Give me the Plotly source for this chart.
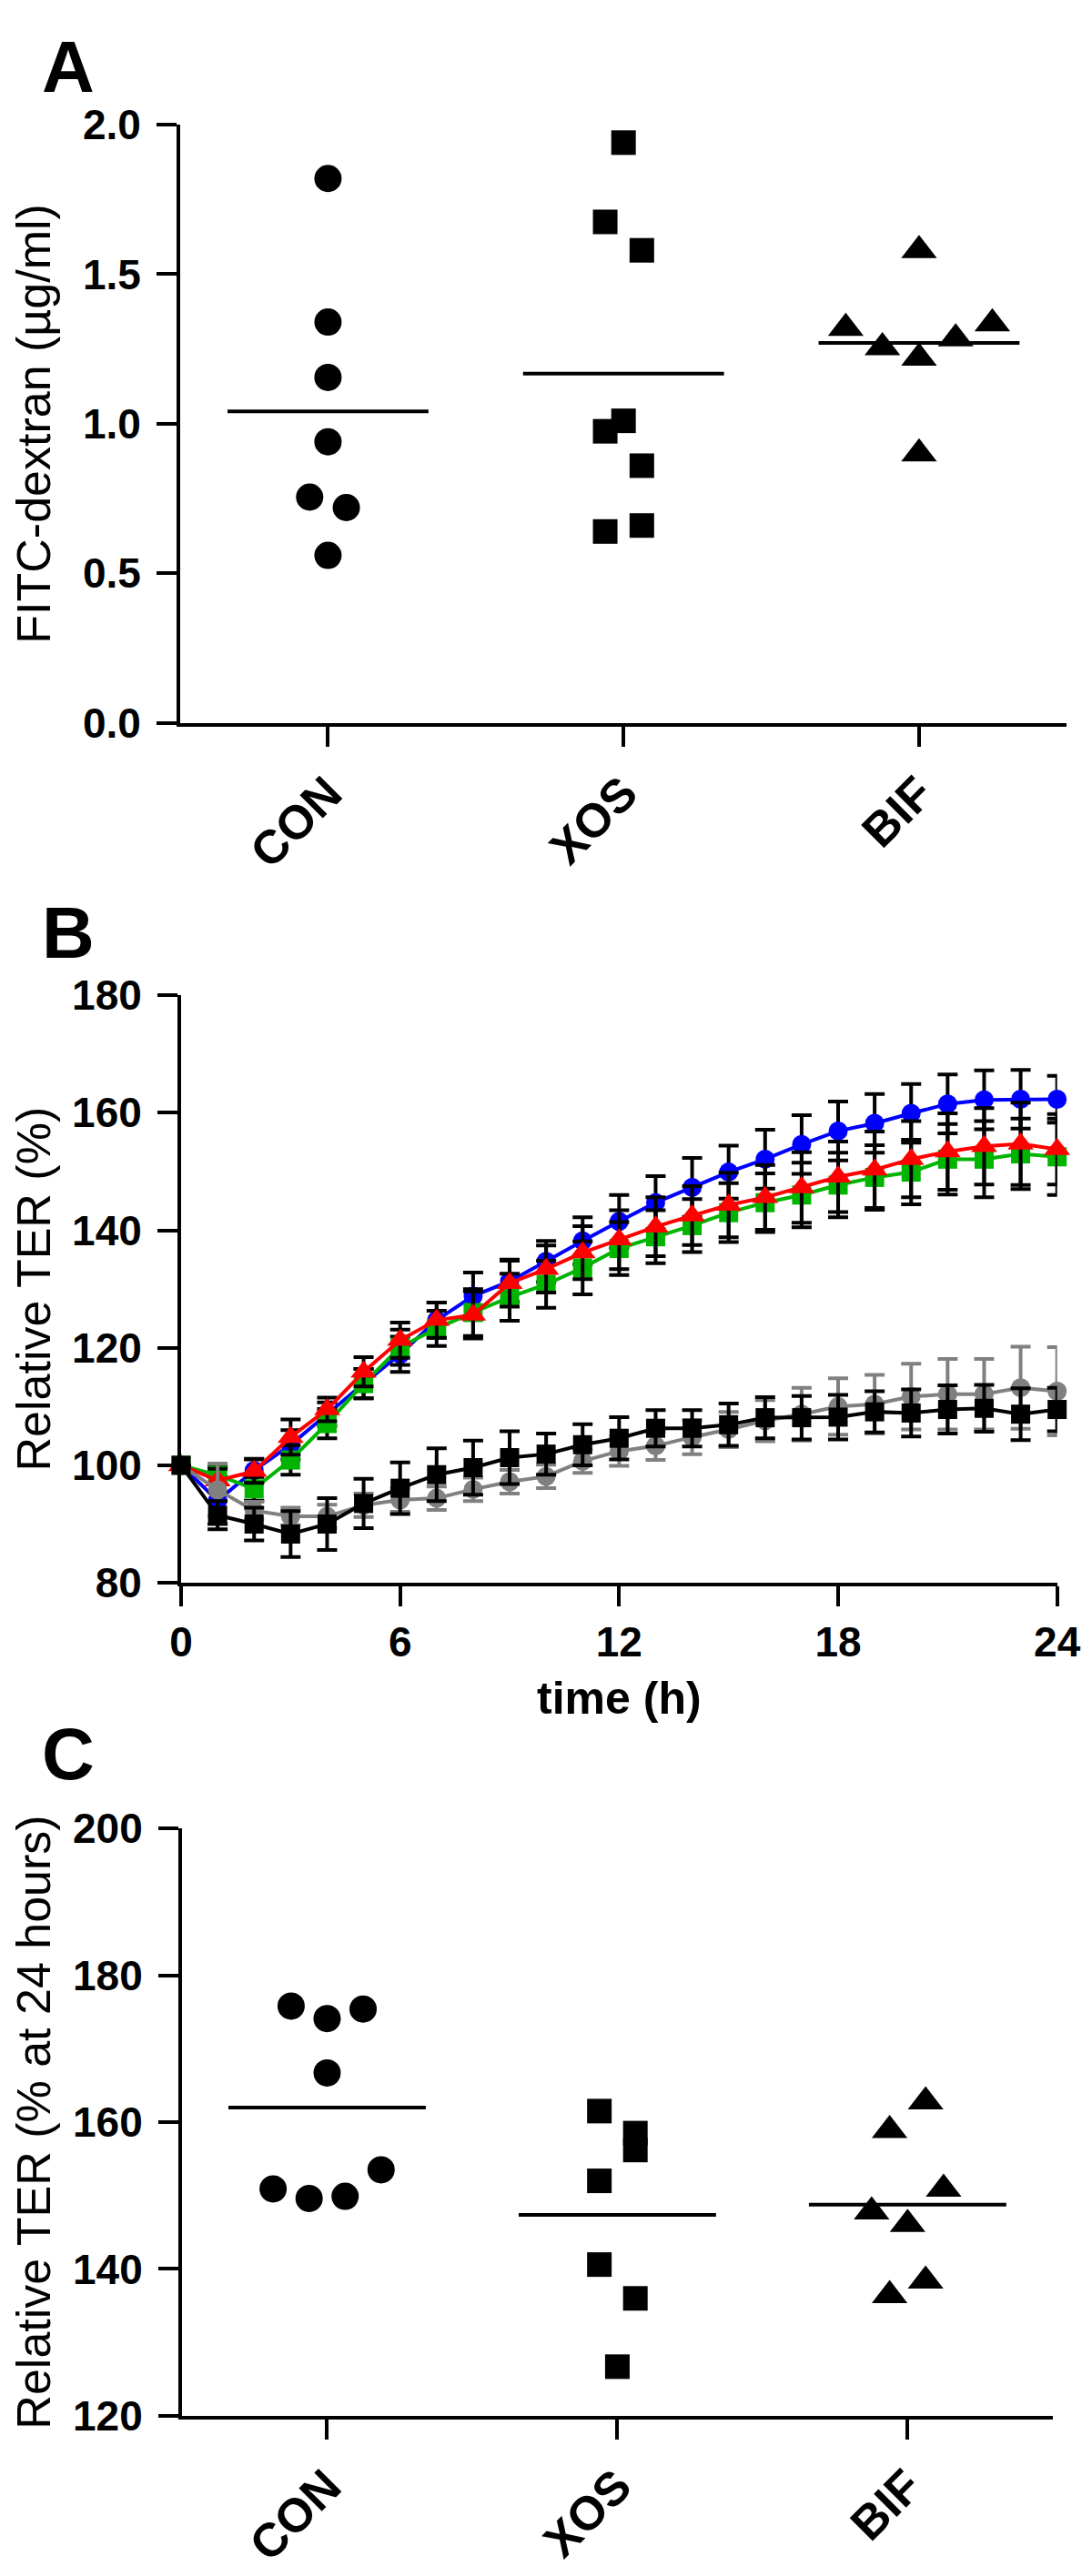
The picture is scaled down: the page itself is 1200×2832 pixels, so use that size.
import numpy as np
import plotly.graph_objects as go

W, H = 1200, 2832

# ---------------- data ----------------
groups = ["CON", "XOS", "BIF"]

# Panel A: FITC-dextran (µg/ml)
a_con = [1.82, 1.34, 1.155, 0.94, 0.755, 0.72, 0.56]
a_xos = [1.94, 1.675, 1.58, 1.01, 0.975, 0.86, 0.64, 0.66]
a_bif = [1.32, 1.255, 1.58, 1.22, 1.285, 1.335, 0.90]
# dot-plot column slots (GraphPad style scatter arrangement)
a_con_slot = [0, 0, 0, 0, -1, 1, 0]
a_xos_slot = [0, -1, 1, 0, -1, 1, -1, 1]
a_bif_slot = [-4, -2, 0, 0, 2, 4, 0]

# Panel B: relative TER (%) over time
time_h = list(range(25))
b_blue = [100, 94.0, 99.1, 103.5, 108.7, 113.9, 118.9, 124.7, 128.8, 131.3, 134.7, 138.2, 141.5,
          144.7, 147.3, 149.9, 152.1, 154.6, 156.9, 158.2, 159.9, 161.5, 162.2, 162.3, 162.3]
b_blue_err = [0, 4, 2, 2.5, 2, 2.5, 3, 3, 4, 3.5, 3.5, 4, 4.5, 4.5, 5, 4.5, 5, 5, 5, 5, 5, 5, 5, 5, 4]
b_green = [100, 98.3, 96.0, 100.9, 107.1, 113.9, 120.1, 123.3, 126.0, 128.6, 130.8, 133.6, 136.9,
           138.9, 140.8, 143.0, 144.7, 146.0, 147.7, 149.0, 149.9, 152.1, 152.1, 153.0, 152.5]
b_green_err = [0, 1.5, 2, 2.5, 2.5, 2.5, 3, 3, 4, 4, 4, 4.5, 4.5, 4.5, 4.5, 5, 5, 5.5, 5.5, 5.5,
               5.5, 6, 6.5, 6, 6.5]
b_red = [100, 97.4, 99.0, 104.8, 109.5, 115.9, 121.3, 124.7, 125.6, 131.0, 133.4, 136.2, 138.4,
         140.6, 142.5, 144.3, 145.6, 147.3, 149.1, 150.3, 152.1, 153.4, 154.3, 154.7, 153.8]
b_red_err = [0, 2, 2, 3, 2, 2.5, 3, 3, 4, 4, 4, 4.5, 5, 5, 5, 5.5, 5.5, 6, 6, 6.5, 6.5, 6.5, 6.5, 7, 6]
b_grey = [100, 95.8, 92.3, 91.3, 91.3, 93.2, 94.1, 94.4, 95.9, 97.2, 98.1, 100.7, 102.4, 103.3,
          104.8, 106.1, 107.6, 108.7, 110.0, 110.4, 111.7, 112.1, 112.1, 113.2, 112.6]
b_grey_err = [0, 4.5, 1.5, 1.5, 2, 2, 2, 2, 2, 2, 2, 2, 2.5, 2.4, 2.9, 3, 3.5, 4.5, 4.8, 5, 5.6,
              6, 6, 7, 7.5]
b_black = [100, 91.5, 90.0, 88.3, 90.0, 93.5, 96.1, 98.4, 99.6, 101.3, 101.9, 103.5, 104.6, 106.3,
           106.3, 106.9, 108.1, 108.1, 108.2, 109.1, 108.9, 109.5, 109.7, 108.7, 109.5]
b_black_err = [0, 2.4, 2.8, 3.9, 4.4, 4.2, 4.4, 4.5, 4.6, 4.5, 3.5, 3.5, 3.6, 3.1, 3.1, 3.6, 3.5,
               3.7, 3.8, 3.5, 4.0, 4.1, 4.0, 4.4, 3.7]

# Panel C: relative TER (% at 24 hours)
c_con = [175.8, 174.1, 175.4, 166.7, 150.9, 149.6, 149.9, 153.5]
c_xos = [161.5, 158.5, 156.2, 152.0, 140.6, 136.0, 126.7]
c_bif = [158.9, 162.8, 150.9, 147.8, 146.1, 136.4, 138.4]
c_con_slot = [-2, 0, 2, 0, -3, -1, 1, 3]
c_xos_slot = [-1, 1, 1, -1, -1, 1, 0]
c_bif_slot = [-1, 1, 2, -2, 0, -1, 1]

# ---------------- styling ----------------
SLOT = 0.062
HALF_MEAN = 0.34
TICK_FONT = dict(family="Liberation Sans Narrow, Arial Narrow, Liberation Sans, Arial, sans-serif",
                 size=46, color="black", weight="bold")
CAT_FONT = dict(family="Liberation Sans, Arial, sans-serif", size=52, color="black", weight="bold")
TITLE_FONT = dict(family="Liberation Sans, Arial, sans-serif", size=52, color="black")


def dom_x(a, b):
    return [a / W, b / W]


def dom_y(top, bottom):
    return [1 - bottom / H, 1 - top / H]


fig = go.Figure()


def dot_group(vals, slots, idx, symbol, size, xa, ya):
    xs = [idx + s * SLOT for s in slots]
    fig.add_trace(go.Scatter(x=xs, y=vals, mode="markers", xaxis=xa, yaxis=ya,
                             marker=dict(symbol=symbol, size=size, color="black"),
                             showlegend=False, cliponaxis=False))
    m = float(np.mean(vals))
    fig.add_trace(go.Scatter(x=[idx - HALF_MEAN, idx + HALF_MEAN], y=[m, m], mode="lines",
                             xaxis=xa, yaxis=ya, line=dict(color="black", width=4),
                             showlegend=False, hoverinfo="skip"))


# Panel A
dot_group(a_con, a_con_slot, 0, "circle", 30, "x", "y")
dot_group(a_xos, a_xos_slot, 1, "square", 27, "x", "y")
dot_group(a_bif, a_bif_slot, 2, "triangle-up", 34, "x", "y")

# Panel B
series_b = [
    ("blue", b_blue, b_blue_err, "#0000FF", "circle", "black"),
    ("green", b_green, b_green_err, "#00B400", "square", "black"),
    ("red", b_red, b_red_err, "#FF0000", "triangle-up", "black"),
    ("grey", b_grey, b_grey_err, "#808080", "circle", "#808080"),
    ("black", b_black, b_black_err, "#000000", "square", "black"),
]
for name, vals, err, col, sym, ecol in series_b:
    fig.add_trace(go.Scatter(
        x=time_h, y=vals, mode="lines+markers", xaxis="x2", yaxis="y2", name=name,
        line=dict(color=col, width=4),
        marker=dict(symbol=sym, size=21 if sym != "triangle-up" else 25, color=col),
        error_y=dict(type="data", array=err, visible=True, color=ecol, thickness=4, width=11),
        showlegend=False, cliponaxis=False))

# Panel C
dot_group(c_con, c_con_slot, 0, "circle", 30, "x3", "y3")
dot_group(c_xos, c_xos_slot, 1, "square", 27, "x3", "y3")
dot_group(c_bif, c_bif_slot, 2, "triangle-up", 34, "x3", "y3")

axis_common = dict(showline=True, linewidth=4, linecolor="black", ticks="outside", ticklen=22,
                   tickwidth=4, tickcolor="black", showgrid=False, zeroline=False)

fig.update_layout(
    width=W, height=H, margin=dict(l=0, r=0, t=0, b=0),
    plot_bgcolor="white", paper_bgcolor="white",
    # Panel A
    xaxis=dict(domain=dom_x(183, 1190), range=[-0.5, 2.5], tickvals=[0, 1, 2], ticktext=groups,
               tickangle=-45, tickfont=CAT_FONT, anchor="y", **axis_common),
    yaxis=dict(domain=dom_y(105, 775), range=[0, 2], tickvals=[0, 0.5, 1, 1.5, 2],
               tickformat=".1f", tickfont=TICK_FONT, anchor="x",
               title=dict(text="FITC-dextran (µg/ml)", font=TITLE_FONT, standoff=30),
               ticklabelstandoff=8, **axis_common),
    # Panel B
    xaxis2=dict(domain=dom_x(184, 1179), range=[0, 24], tickvals=[0, 6, 12, 18, 24],
                tickfont=TICK_FONT, anchor="y2", ticklabeloverflow="allow",
                title=dict(text="time (h)", font=dict(TICK_FONT, size=50), standoff=20),
                **axis_common),
    yaxis2=dict(domain=dom_y(1080, 1738), range=[80, 180], tickvals=[80, 100, 120, 140, 160, 180],
                tickfont=TICK_FONT, anchor="x2",
                title=dict(text="Relative TER (%)", font=TITLE_FONT, standoff=30),
                ticklabelstandoff=8, **axis_common),
    # Panel C
    xaxis3=dict(domain=dom_x(185, 1174), range=[-0.5, 2.5], tickvals=[0, 1, 2], ticktext=groups,
                tickangle=-45, tickfont=CAT_FONT, anchor="y3", **axis_common),
    yaxis3=dict(domain=dom_y(2013, 2671), range=[120, 200], tickvals=[120, 140, 160, 180, 200],
                tickfont=TICK_FONT, anchor="x3",
                title=dict(text="Relative TER (% at 24 hours)", font=TITLE_FONT, standoff=30),
                ticklabelstandoff=8, **axis_common),
)

PANEL_FONT = dict(family="Liberation Sans, Arial, sans-serif", size=80, color="black", weight="bold")
for lab, yc in [("A", 40), ("B", 1010), ("C", 1930)]:
    fig.add_annotation(text=lab, x=56 / W, y=1 - yc / H, xref="paper", yref="paper",
                       xanchor="center", yanchor="middle", showarrow=False, font=PANEL_FONT)

fig.write_html("out.html")
